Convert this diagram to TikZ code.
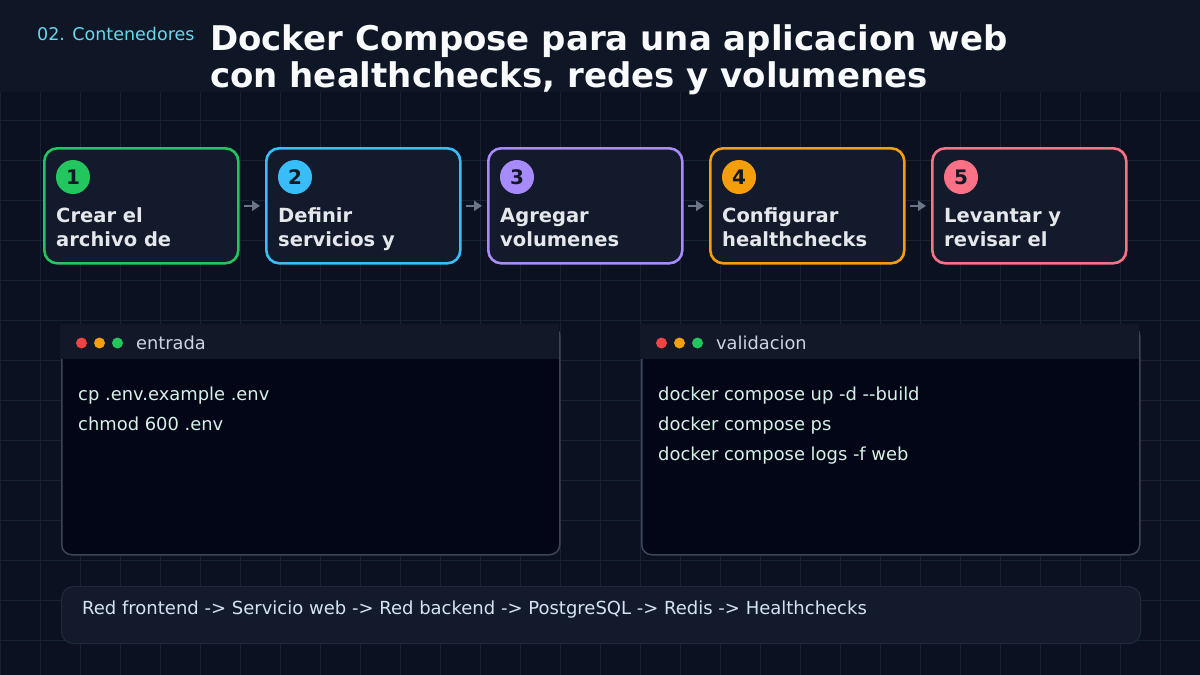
\documentclass[tikz,border=0pt]{standalone}
\usepackage{fontspec}
\setmainfont{DejaVu Sans}
\usetikzlibrary{arrows.meta}
\definecolor{bg}{HTML}{0B1120}
\definecolor{gridc}{HTML}{172234}
\definecolor{hdr}{HTML}{0F1727}
\definecolor{boxfill}{HTML}{121A2B}
\definecolor{steptext}{HTML}{E5E7EB}
\definecolor{titlec}{HTML}{F8FAFC}
\definecolor{labelc}{HTML}{67D8EE}
\definecolor{termhead}{HTML}{121827}
\definecolor{termbody}{HTML}{020617}
\definecolor{termborder}{HTML}{3B4557}
\definecolor{termtext}{HTML}{D6F2E6}
\definecolor{termtitle}{HTML}{CBD5E1}
\definecolor{barfill}{HTML}{121A2B}
\definecolor{barborder}{HTML}{1E293B}
\definecolor{bartext}{HTML}{D3E3F5}
\definecolor{arrowc}{HTML}{6B7588}
\definecolor{numtext}{HTML}{111827}
\definecolor{cgreen}{HTML}{22C55E}
\definecolor{cblue}{HTML}{38BDF8}
\definecolor{cpurple}{HTML}{A78BFA}
\definecolor{corange}{HTML}{F59E0B}
\definecolor{cpink}{HTML}{FB7185}
\definecolor{dred}{HTML}{EF4444}
\tikzset{
  stepbox/.style={draw, line width=2.6pt, rounded corners=13pt, fill=boxfill,
    minimum width=194pt, minimum height=115pt, anchor=north west, inner sep=0pt},
  numdot/.style={circle, minimum size=34pt, inner sep=0pt, text=numtext,
    font=\bfseries\fontsize{20}{22}\selectfont},
  steplabel/.style={anchor=base west, inner sep=0pt, text=steptext,
    font=\bfseries\fontsize{19.5}{22}\selectfont},
  flowarrow/.style={draw=arrowc, line width=2.6pt, shorten <=4pt, shorten >=5pt,
    -{Triangle[length=8pt,width=10pt]}},
  termwin/.style={draw=termborder, line width=1.5pt, fill=termbody, rounded corners=10pt,
    minimum width=498pt, minimum height=229pt, anchor=north west, inner sep=0pt},
  termbar/.style={fill=termhead, minimum width=499pt, minimum height=35pt,
    anchor=north west, inner sep=0pt},
  wdot/.style={circle, minimum size=11pt, inner sep=0pt},
  termtitle/.style={anchor=base west, inner sep=0pt, text=termtitle,
    font=\fontsize{17.8}{20}\selectfont},
  termline/.style={anchor=base west, inner sep=0pt, text=termtext,
    font=\fontsize{17.9}{20}\selectfont},
}
\begin{document}
\begin{tikzpicture}[x=1pt,y=-1pt]
\fill[bg] (0,0) rectangle (1200,675);
\useasboundingbox (0,0) rectangle (1200,675);
% grid
\foreach \x in {0,40,...,1200} \draw[gridc, line width=1pt] (\x,92) -- (\x,675);
\foreach \y in {120,160,...,640} \draw[gridc, line width=1pt] (0,\y) -- (1200,\y);
% header band
\fill[hdr] (0,0) rectangle (1200,92);
\node[anchor=base west, inner sep=0pt, text=labelc, font=\fontsize{17.5}{20}\selectfont] (lbl) at (37,40.5) {02. Contenedores};
\node[anchor=base west, inner sep=0pt, text=titlec, font=\bfseries\fontsize{34}{38}\selectfont] (ttl1) at (210,50) {Docker Compose para una aplicacion web};
\node[anchor=base west, inner sep=0pt, text=titlec, font=\bfseries\fontsize{34}{38}\selectfont] (ttl2) at (210,87) {con healthchecks, redes y volumenes};
% steps
\node[stepbox, draw=cgreen] (s1) at (43,147) {};
\node[stepbox, draw=cblue] (s2) at (265,147) {};
\node[stepbox, draw=cpurple] (s3) at (487,147) {};
\node[stepbox, draw=corange] (s4) at (709,147) {};
\node[stepbox, draw=cpink] (s5) at (931,147) {};
\node[numdot, fill=cgreen] (n1) at (73,177) {1};
\node[numdot, fill=cblue] (n2) at (295,177) {2};
\node[numdot, fill=cpurple] (n3) at (517,177) {3};
\node[numdot, fill=corange] (n4) at (739,177) {4};
\node[numdot, fill=cpink] (n5) at (961,177) {5};
\node[steplabel] (t1a) at (56,222) {Crear el};
\node[steplabel] (t1b) at (56,246) {archivo de};
\node[steplabel] (t2a) at (278,222) {Definir};
\node[steplabel] (t2b) at (278,246) {servicios y};
\node[steplabel] (t3a) at (500,222) {Agregar};
\node[steplabel] (t3b) at (500,246) {volumenes};
\node[steplabel] (t4a) at (722,222) {Configurar};
\node[steplabel] (t4b) at (722,246) {healthchecks};
\node[steplabel] (t5a) at (944,222) {Levantar y};
\node[steplabel] (t5b) at (944,246) {revisar el};
\draw[flowarrow] (s1) -- (s2);
\draw[flowarrow] (s2) -- (s3);
\draw[flowarrow] (s3) -- (s4);
\draw[flowarrow] (s4) -- (s5);
% terminal windows
\node[termwin] (w1) at (61,325) {};
\node[termbar] (h1) at (60.25,324.25) {};
\node[wdot, fill=dred] (w1r) at (81.5,343) {};
\node[wdot, fill=corange] (w1o) at (99.5,343) {};
\node[wdot, fill=cgreen] (w1g) at (117.5,343) {};
\node[termtitle] (w1t) at (136,349.5) {entrada};
\node[termline] (w1l1) at (78,400) {cp .env.example .env};
\node[termline] (w1l2) at (78,430) {chmod 600 .env};
\node[termwin] (w2) at (641,325) {};
\node[termbar] (h2) at (640.25,324.25) {};
\node[wdot, fill=dred] (w2r) at (661.5,343) {};
\node[wdot, fill=corange] (w2o) at (679.5,343) {};
\node[wdot, fill=cgreen] (w2g) at (697.5,343) {};
\node[termtitle] (w2t) at (716,349.5) {validacion};
\node[termline] (w2l1) at (658,400) {docker compose up -d -{}-build};
\node[termline] (w2l2) at (658,430) {docker compose ps};
\node[termline] (w2l3) at (658,460) {docker compose logs -f web};
% bottom bar
\node[draw=barborder, line width=1.2pt, fill=barfill, rounded corners=12pt, minimum width=1079pt, minimum height=57pt, anchor=north west, inner sep=0pt] (bar) at (61,586) {};
\node[anchor=base west, inner sep=0pt, text=bartext, font=\fontsize{18}{20}\selectfont] (bart) at (82,614.5) {Red frontend -> Servicio web -> Red backend -> PostgreSQL -> Redis -> Healthchecks};
\end{tikzpicture}
\end{document}
